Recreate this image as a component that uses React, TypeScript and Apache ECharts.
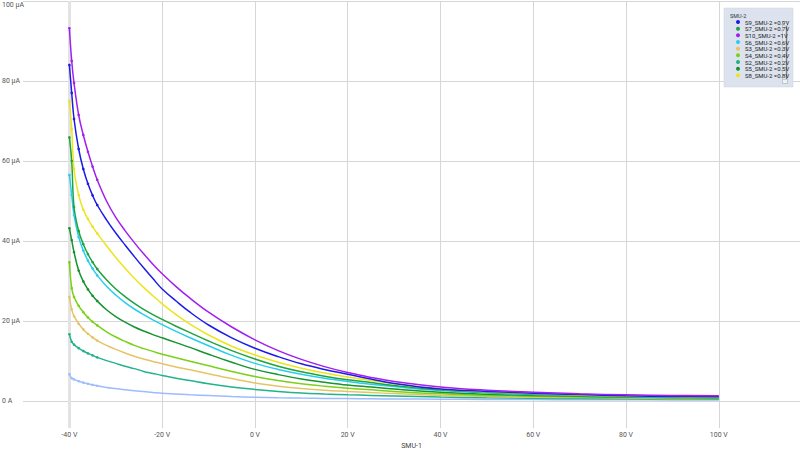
import React, { useEffect, useRef } from 'react';
import * as echarts from 'echarts';

// SMU-1 voltage (V)
const voltages = [-40, -39.5, -39, -38, -37, -36, -35, -34, -32, -30, -28, -26, -24, -22, -20, -17, -14, -10, -5, 0, 5, 10, 15, 20, 25, 30, 40, 50, 60, 70, 80, 90, 100];

// currents in µA
const s10 = [93.2, 85, 79.5, 71.5, 66.5, 62.3, 58.6, 55.3, 50, 45.9, 42.6, 39.6, 36.8, 34.2, 31.8, 28.6, 25.7, 22.2, 18.5, 15.3, 12.6, 10.4, 8.6, 7.1, 5.9, 4.9, 3.5, 2.7, 2.2, 1.8, 1.55, 1.4, 1.3];
const s9 = [84, 77, 70.5, 63, 58, 54.3, 51.4, 49, 45.3, 42, 39, 36.1, 33.3, 30.6, 28, 25, 22.2, 19, 15.8, 13.2, 11.1, 9.3, 7.9, 6.7, 5.5, 4.4, 3, 2.4, 1.95, 1.6, 1.3, 1.15, 1.05];
const s8 = [75, 68, 58, 51.5, 47.8, 45.5, 43.6, 41.9, 38.8, 35.9, 33.2, 30.7, 28.4, 26.3, 24.3, 21.6, 19.2, 16.5, 13.7, 11.5, 9.7, 8.2, 7, 6, 5.1, 4.3, 3, 2.3, 1.9, 1.5, 1.25, 1.1, 1];
const s7 = [65.9, 60, 48.5, 42.5, 39.2, 36.7, 34.7, 33, 30.3, 28, 26.1, 24.4, 22.9, 21.6, 20.4, 18.7, 17.1, 15, 12.6, 10.5, 8.7, 7.3, 6.2, 5.3, 4.6, 3.9, 2.8, 2.2, 1.75, 1.45, 1.2, 1.05, 0.95];
const s6 = [56.5, 51.5, 46.5, 41, 37.6, 35.1, 33.1, 31.4, 28.7, 26.5, 24.6, 23, 21.6, 20.3, 19.1, 17.4, 15.8, 13.8, 11.4, 9.4, 7.9, 6.7, 5.7, 4.9, 4.2, 3.6, 2.6, 2, 1.6, 1.35, 1.1, 0.95, 0.85];
const s5 = [43.2, 40.2, 37.2, 32.6, 29.9, 27.9, 26.3, 25, 22.8, 21.1, 19.7, 18.5, 17.5, 16.6, 15.8, 14.6, 13.4, 11.7, 9.7, 7.9, 6.6, 5.5, 4.7, 4, 3.5, 3, 2.2, 1.7, 1.4, 1.2, 1, 0.9, 0.8];
const s4 = [34.7, 28.2, 26, 23.8, 22.2, 20.9, 19.8, 18.9, 17.3, 16, 14.9, 13.9, 13.1, 12.4, 11.7, 10.8, 9.95, 8.8, 7.4, 6.1, 5.1, 4.3, 3.7, 3.2, 2.8, 2.4, 1.8, 1.4, 1.2, 1, 0.85, 0.75, 0.7];
const s3 = [26, 22.9, 21.2, 19.3, 17.9, 16.8, 15.9, 15.1, 13.9, 12.9, 12, 11.2, 10.5, 9.9, 9.3, 8.5, 7.8, 6.8, 5.6, 4.5, 3.7, 3.1, 2.7, 2.4, 2.1, 1.85, 1.4, 1.1, 0.95, 0.85, 0.75, 0.65, 0.6];
const s2 = [16.7, 14.8, 14.1, 13.2, 12.5, 11.9, 11.4, 10.9, 10.1, 9.4, 8.7, 8.1, 7.4, 6.9, 6.4, 5.7, 5.1, 4.3, 3.5, 2.9, 2.4, 2, 1.75, 1.55, 1.4, 1.25, 1, 0.8, 0.7, 0.6, 0.55, 0.5, 0.45];
const s1 = [6.7, 5.7, 5.4, 4.95, 4.6, 4.3, 4.05, 3.8, 3.4, 3.1, 2.8, 2.55, 2.35, 2.15, 1.95, 1.75, 1.55, 1.35, 1.12, 0.95, 0.82, 0.72, 0.65, 0.6, 0.55, 0.5, 0.45, 0.4, 0.35, 0.32, 0.3, 0.28, 0.25];

const seriesNames = ['S1_SMU-2 =0.1V', 'S2_SMU-2 =0.2V', 'S3_SMU-2 =0.3V', 'S4_SMU-2 =0.4V', 'S5_SMU-2 =0.5V', 'S6_SMU-2 =0.6V', 'S7_SMU-2 =0.7V', 'S8_SMU-2 =0.8V', 'S9_SMU-2 =0.9V', 'S10_SMU-2 =1V'];
const seriesValues = [s1, s2, s3, s4, s5, s6, s7, s8, s9, s10];
const seriesColors = ['#9dbcff', '#22b38c', '#e6c466', '#7ad116', '#17932f', '#27cdef', '#1fa33d', '#ece41f', '#1c1ce8', '#a21ff0'];

const legendOrder = ['S9_SMU-2 =0.9V', 'S7_SMU-2 =0.7V', 'S10_SMU-2 =1V', 'S6_SMU-2 =0.6V', 'S3_SMU-2 =0.3V', 'S4_SMU-2 =0.4V', 'S2_SMU-2 =0.2V', 'S5_SMU-2 =0.5V', 'S8_SMU-2 =0.8V'];

const xGridValues = [-40, -20, 0, 20, 40, 60, 80, 100];

export default function App() {
  const ref = useRef<HTMLDivElement>(null);
  useEffect(() => {
    const chart = echarts.init(ref.current!, null, { renderer: 'svg' });
    const font = 'Roboto, "Noto Sans", sans-serif';
    const series: any[] = seriesNames.map((name, i) => {
      const s: any = {
        name,
        type: 'line',
        data: voltages.map((v, j) =>
          v <= -34
            ? { value: [v, seriesValues[i][j]], symbol: 'circle', symbolSize: 2.6 }
            : { value: [v, seriesValues[i][j]] }
        ),
        showSymbol: true,
        symbol: 'none',
        smooth: 0.4,
        lineStyle: { width: 1.5, color: seriesColors[i] },
        itemStyle: { color: seriesColors[i] },
        z: 2,
      };
      if (i === 0) {
        s.markLine = {
          silent: true,
          z: 1,
          symbol: ['none', 'none'],
          label: { show: false },
          lineStyle: { color: '#d6d6d6', width: 1, type: 'solid' },
          data: xGridValues.map((v) =>
            v === -40
              ? { xAxis: v, lineStyle: { color: '#e3e3e3', width: 3, type: 'solid' } }
              : { xAxis: v }
          ),
        };
      }
      return s;
    });
    chart.setOption({
      animation: false,
      backgroundColor: '#ffffff',
      textStyle: { fontFamily: font },
      grid: { left: 23, right: 0, top: 1, bottom: 22, containLabel: false, outerBoundsMode: 'none' },
      xAxis: {
        type: 'value',
        min: -50,
        max: 117.5,
        interval: 10,
        axisLine: { show: false },
        axisTick: { show: false },
        splitLine: { show: false },
        axisLabel: {
          interval: 0,
          fontSize: 7,
          color: '#555',
          margin: 3,
          fontFamily: font,
          formatter: (v: number) => (v % 20 === 0 && v >= -40 && v <= 100 ? `${v} V` : ''),
        },
        name: 'SMU-1',
        nameLocation: 'middle',
        nameGap: 12,
        nameTextStyle: { fontSize: 7, color: '#444', fontFamily: font },
      },
      yAxis: {
        type: 'value',
        min: -6.75,
        max: 100,
        axisLine: { show: false },
        axisTick: { show: false },
        splitLine: { show: true, showMinLine: false, lineStyle: { color: '#d6d6d6', width: 1 } },
        axisLabel: {
          fontSize: 7,
          color: '#555',
          align: 'left',
          margin: 21,
          fontFamily: font,
          verticalAlignMaxLabel: 'top',
          formatter: (v: number) => (v === 0 ? '0 A' : v % 20 === 0 && v > 0 ? `${v} µA` : ''),
        },
      },
      legend: {
        data: legendOrder,
        orient: 'vertical',
        left: 736,
        top: 19,
        padding: 0,
        itemGap: 0.67,
        itemWidth: 4,
        itemHeight: 4,
        icon: 'circle',
        textStyle: { fontSize: 6, lineHeight: 6, color: '#222', fontFamily: font },
        selectedMode: false,
        z: 6,
      },
      graphic: {
        elements: [
          {
            type: 'rect',
            z: 4,
            shape: { x: 724, y: 8, width: 69, height: 79 },
            style: { fill: '#dce3ee', stroke: '#cbd3df', lineWidth: 0.5 },
          },
          {
            type: 'text',
            z: 5,
            x: 730,
            y: 13,
            style: { text: 'SMU-2', fontSize: 5.5, fill: '#333', fontFamily: font },
          },
          {
            type: 'rect',
            z: 5,
            shape: { x: 782.5, y: 21.5, width: 5, height: 62 },
            style: { fill: '#e6e8ec', stroke: '#a9adb4', lineWidth: 0.5 },
          },
          {
            type: 'rect',
            z: 5,
            shape: { x: 782.5, y: 21.5, width: 5, height: 4 },
            style: { fill: '#f2f3f5', stroke: '#a9adb4', lineWidth: 0.5 },
          },
          {
            type: 'rect',
            z: 5,
            shape: { x: 782.5, y: 79.5, width: 5, height: 4 },
            style: { fill: '#f2f3f5', stroke: '#a9adb4', lineWidth: 0.5 },
          },
          {
            type: 'rect',
            z: 5,
            shape: { x: 785.8, y: 26, width: 1.2, height: 53 },
            style: { fill: '#7c8088' },
          },
        ],
      },
      series,
    });
    return () => chart.dispose();
  }, []);
  return (
    <div
      ref={ref}
      style={{ position: 'fixed', left: 0, top: 0, width: 800, height: 450, background: '#fff' }}
    />
  );
}
